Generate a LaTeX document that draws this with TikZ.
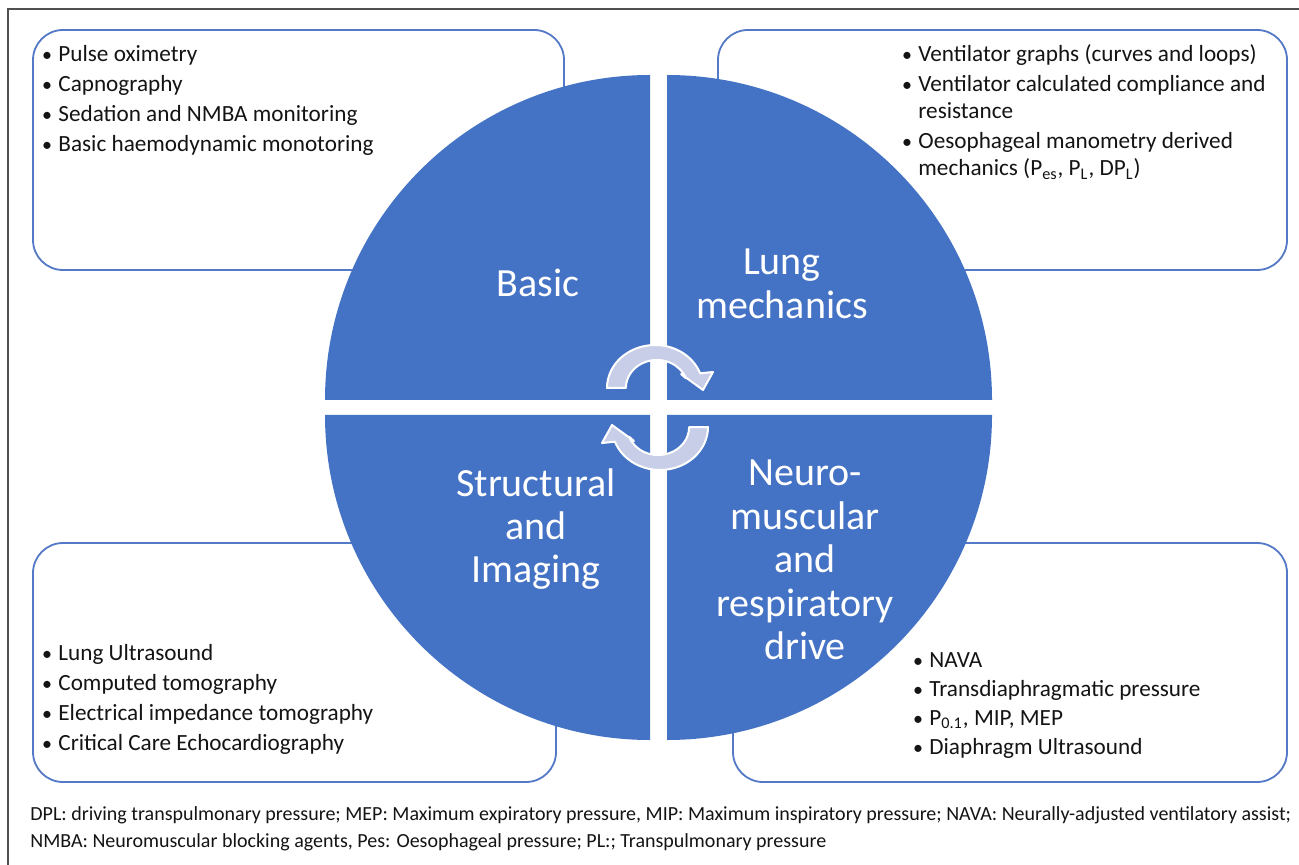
\documentclass[tikz,border=0pt]{standalone}
\usepackage{fontspec}
\setmainfont{Carlito}
\usetikzlibrary{calc}
\definecolor{quadblue}{RGB}{68,114,196}
\definecolor{boxline}{RGB}{84,121,198}
\definecolor{cyclefill}{RGB}{200,206,232}
\definecolor{framegray}{RGB}{80,80,80}
\definecolor{textdark}{RGB}{20,20,20}

% bullet item: name, bullet centre x, baseline y, text
\newcommand\bitem[4]{%
  \node[bul] (#1b) at (#2,#3) {\textbullet};
  \node[item] (#1) at ([xshift=5.5pt]#1b.base) {#4};}
% continuation line under a bullet item
\newcommand\bcont[3]{%
  \node[item] (#1) at ([yshift=-13.5pt]#2.base west) {#3};}

\begin{document}
\begin{tikzpicture}[x=0.5pt,y=-0.5pt,
  infobox/.style={draw=boxline, line width=0.9pt, rounded corners=15pt, fill=white},
  quadrant/.style={fill=quadblue},
  qlabel/.style={text=white, font=\fontsize{20}{21.7}\selectfont, align=center, inner sep=0pt},
  item/.style={anchor=base west, text=textdark, font=\fontsize{11.6}{13.5}\selectfont, inner sep=0pt},
  bul/.style={anchor=base, text=textdark, font=\fontsize{10}{13.5}\selectfont, inner sep=0pt},
  note/.style={anchor=base west, text=textdark, font=\fontsize{10}{11}\selectfont, inner sep=0pt},
  cyclearrow/.style={fill=cyclefill, draw=white, line width=1pt, line join=round}
]
\useasboundingbox (0,0) rectangle (1299,865);
\fill[white] (0,0) rectangle (1299,865);
\draw[framegray, line width=0.6pt] (8,865) -- (8,9) -- (1299,9);

% rounded information boxes
\draw[infobox] (33,30) rectangle (564,270);
\draw[infobox] (718,30) rectangle (1287,270);
\draw[infobox] (33,543) rectangle (556,782);
\draw[infobox] (733,543) rectangle (1287,782);

% four quarter discs
\fill[quadrant] (650,400) -- ++(180:325) arc[start angle=180, end angle=270, radius=325] -- cycle;
\fill[quadrant] (667,400) -- ++(270:325) arc[start angle=270, end angle=360, radius=325] -- cycle;
\fill[quadrant] (650,415) -- ++(90:325) arc[start angle=90, end angle=180, radius=325] -- cycle;
\fill[quadrant] (667,415) -- ++(0:325) arc[start angle=0, end angle=90, radius=325] -- cycle;

% quadrant titles
\node[qlabel] (basic) at (538,283) {Basic};
\node[qlabel] (lung) at (782,284) {Lung\\mechanics};
\node[qlabel] (struct) at (536,529) {Structural\\and\\Imaging};
\node[qlabel] (neuro) at (805,560) {Neuro-\\muscular\\and\\respiratory\\drive};

% circular arrows in the middle
\path[cyclearrow] (607,388) arc[start angle=180, end angle=340, x radius=48, y radius=43]
  -- (713,372) -- (703,390) -- (681,374) -- (686,378.4)
  arc[start angle=340, end angle=180, x radius=31, y radius=28] -- cycle;
\path[cyclearrow, rotate around={180:(657.5,407.5)}] (607,388) arc[start angle=180, end angle=340, x radius=48, y radius=43]
  -- (713,372) -- (703,390) -- (681,374) -- (686,378.4)
  arc[start angle=340, end angle=180, x radius=31, y radius=28] -- cycle;

% basic monitoring
\bitem{tl1}{47}{62}{Pulse oximetry}
\bitem{tl2}{47}{92}{Capnography}
\bitem{tl3}{47}{122}{Sedation and NMBA monitoring}
\bitem{tl4}{47}{152}{Basic haemodynamic monotoring}

% lung mechanics
\bitem{tr1}{907}{62}{Ventilator graphs (curves and loops)}
\bitem{tr2}{907}{92}{Ventilator calculated compliance and}
\bcont{tr2c}{tr2}{resistance}
\bitem{tr3}{907}{149}{Oesophageal manometry derived}
\bcont{tr3c}{tr3}{mechanics (P\textsubscript{es}, P\textsubscript{L}, DP\textsubscript{L})}

% structural and imaging
\bitem{bl1}{47}{660}{Lung Ultrasound}
\bitem{bl2}{47}{690}{Computed tomography}
\bitem{bl3}{47}{720}{Electrical impedance tomography}
\bitem{bl4}{47}{750}{Critical Care Echocardiography}

% neuromuscular and respiratory drive
\bitem{br1}{918}{667}{NAVA}
\bitem{br2}{918}{696}{Transdiaphragmatic pressure}
\bitem{br3}{918}{725}{P\textsubscript{0.1}, MIP, MEP}
\bitem{br4}{918}{754}{Diaphragm Ultrasound}

% abbreviations
\node[note] (abbr1) at (30,820) {DPL: driving transpulmonary pressure; MEP: Maximum expiratory pressure, MIP: Maximum inspiratory pressure; NAVA: Neurally-adjusted ventilatory assist;};
\node[note] (abbr2) at (30,847) {NMBA: Neuromuscular blocking agents, Pes: Oesophageal pressure; PL:; Transpulmonary pressure};
\end{tikzpicture}
\end{document}
